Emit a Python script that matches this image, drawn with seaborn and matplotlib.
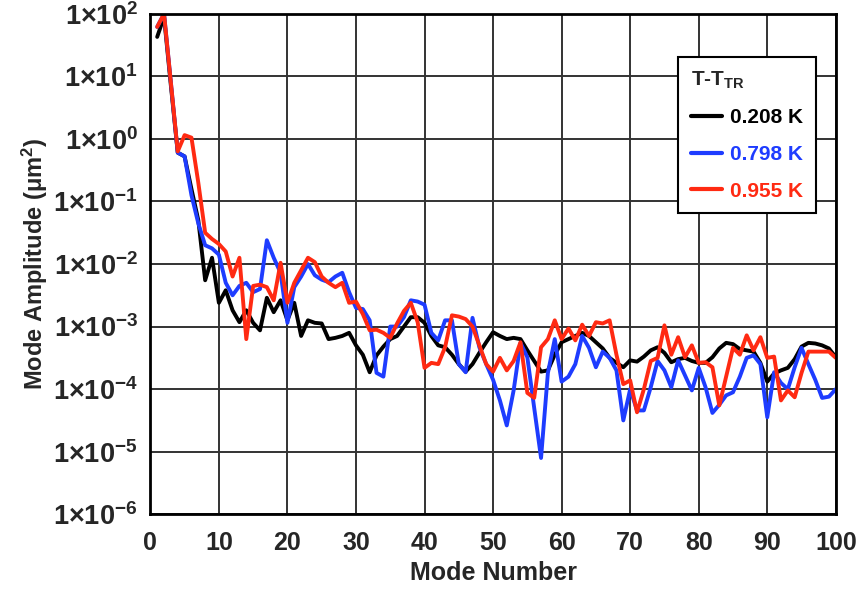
import numpy as np
import pandas as pd
import matplotlib
matplotlib.use("Agg")
import matplotlib.pyplot as plt
import matplotlib.ticker as mticker
import seaborn as sns

# mode numbers and log10 of mode amplitude (um^2)
modes = list(range(1, 101))

black_log = [1.63, 1.95, 0.85, -0.22, -0.28, -0.80, -1.30, -2.26, -1.90, -2.62,
             -2.42, -2.74, -2.93, -2.74, -2.94, -3.06, -2.54, -2.77, -2.58, -2.90,
             -2.62, -3.15, -2.90, -2.94, -2.95, -3.20, -3.18, -3.15, -3.10, -3.30,
             -3.45, -3.73, -3.46, -3.32, -3.20, -3.15, -3.00, -2.85, -2.85, -2.94,
             -3.15, -3.30, -3.33, -3.45, -3.60, -3.72, -3.60, -3.42, -3.25, -3.09,
             -3.15, -3.20, -3.18, -3.20, -3.38, -3.55, -3.72, -3.70, -3.45, -3.25,
             -3.20, -3.15, -3.10, -3.15, -3.25, -3.35, -3.50, -3.58, -3.65, -3.54,
             -3.56, -3.48, -3.38, -3.33, -3.42, -3.57, -3.52, -3.50, -3.55, -3.58,
             -3.58, -3.49, -3.35, -3.26, -3.28, -3.36, -3.38, -3.40, -3.58, -3.88,
             -3.75, -3.70, -3.66, -3.52, -3.32, -3.26, -3.27, -3.30, -3.35, -3.49]

blue_log = [1.79, 2.00, 0.90, -0.22, -0.28, -0.90, -1.35, -1.70, -1.75, -1.85,
            -2.30, -2.50, -2.35, -2.30, -2.45, -2.40, -1.62, -1.90, -2.14, -2.94,
            -2.37, -2.20, -2.00, -2.18, -2.25, -2.29, -2.20, -2.14, -2.45, -2.70,
            -2.72, -2.90, -3.74, -3.80, -3.00, -3.00, -2.85, -2.58, -2.60, -2.65,
            -3.10, -3.22, -2.90, -2.90, -3.60, -3.73, -2.86, -3.33, -3.60, -3.85,
            -4.18, -4.58, -4.02, -3.26, -3.49, -4.30, -5.10, -3.74, -3.20, -3.88,
            -3.80, -3.60, -3.15, -3.34, -3.65, -3.40, -3.50, -3.70, -4.50, -4.00,
            -4.34, -4.34, -3.97, -3.55, -3.70, -3.97, -3.54, -3.78, -4.02, -3.66,
            -3.97, -4.38, -4.25, -4.10, -4.05, -3.80, -3.50, -3.46, -3.60, -4.45,
            -3.73, -3.90, -4.00, -3.65, -3.34, -3.60, -3.85, -4.14, -4.12, -4.00]

red_log = [1.79, 2.00, 0.90, -0.20, 0.06, 0.02, -0.70, -1.50, -1.60, -1.68,
           -1.80, -2.20, -1.90, -3.20, -2.35, -2.33, -2.37, -2.58, -1.98, -2.62,
           -2.30, -2.10, -1.90, -1.97, -2.20, -2.30, -2.37, -2.30, -2.62, -2.60,
           -2.80, -3.06, -3.05, -3.10, -3.18, -2.95, -2.75, -2.62, -2.93, -3.66,
           -3.58, -3.60, -3.33, -2.82, -2.84, -2.88, -3.00, -3.30, -3.60, -3.72,
           -3.50, -3.70, -3.55, -3.25, -4.06, -4.14, -3.33, -3.20, -2.90, -3.20,
           -3.03, -3.22, -2.97, -3.15, -2.93, -2.95, -2.90, -3.45, -3.92, -3.86,
           -4.37, -4.00, -3.55, -3.50, -2.98, -3.45, -3.17, -3.49, -3.30, -3.58,
           -3.57, -3.65, -4.26, -3.80, -3.34, -3.45, -3.14, -3.38, -3.17, -3.50,
           -3.48, -4.18, -4.02, -4.13, -3.74, -3.40, -3.40, -3.40, -3.40, -3.50]

labels = ["0.208 K", "0.798 K", "0.955 K"]
colors = ["#000000", "#1e3cff", "#ff2a12"]

df = pd.concat([
    pd.DataFrame({"mode": modes, "amp": np.power(10.0, vals), "T": lab})
    for vals, lab in zip([black_log, blue_log, red_log], labels)
])

sns.set_style("white")
plt.rcParams["font.family"] = ["Liberation Sans", "DejaVu Sans"]
plt.rcParams["font.weight"] = "bold"
plt.rcParams["mathtext.fontset"] = "custom"
plt.rcParams["mathtext.rm"] = "Liberation Sans:bold"
plt.rcParams["mathtext.it"] = "Liberation Sans:bold"
plt.rcParams["mathtext.bf"] = "Liberation Sans:bold"
plt.rcParams["mathtext.default"] = "rm"

fig = plt.figure(figsize=(8.59, 5.98), dpi=100)
ax = fig.add_axes([0.175, 0.140, 0.798, 0.837])

sns.lineplot(data=df, x="mode", y="amp", hue="T", palette=colors,
             linewidth=2.8, ax=ax, legend=False)

ax.set_yscale("log")
ax.set_xlim(0, 100)
ax.set_ylim(1e-6, 1e2)

ax.set_xticks(range(0, 101, 10))
ax.xaxis.set_minor_locator(mticker.MultipleLocator(2))
ax.set_yticks([10.0 ** k for k in range(-6, 3)])
ax.yaxis.set_minor_locator(mticker.LogLocator(base=10, subs=np.arange(2, 10), numticks=20))
ax.yaxis.set_major_formatter(mticker.FuncFormatter(
    lambda v, p: r"$1{\times}10^{%d}$" % int(round(np.log10(v)))))
ax.yaxis.set_minor_formatter(mticker.NullFormatter())

ax.grid(True, which="major", color="#333333", linewidth=1.4)
ax.tick_params(axis="both", which="major", direction="out", length=6, width=1.5)
ax.tick_params(axis="both", which="minor", direction="out", length=3, width=1)
ax.tick_params(axis="y", labelsize=19.5, pad=3)
ax.tick_params(axis="x", labelsize=18, pad=6)

for s in ax.spines.values():
    s.set_color("black")
    s.set_linewidth(2)

ax.set_xlabel("Mode Number", fontsize=18, fontweight="bold", labelpad=4)
ax.set_ylabel("Mode Amplitude (μm$^{2}$)", fontsize=17, fontweight="bold", labelpad=2)

handles = [plt.Line2D([], [], color=c, linewidth=3) for c in colors]
leg = ax.legend(handles, labels, title=r"T-T$_{\mathrm{TR}}$", loc="upper left",
                bbox_to_anchor=(0.755, 0.935), frameon=True, fancybox=False,
                framealpha=1, edgecolor="black", fontsize=15, title_fontsize=15,
                handlelength=1.5, handletextpad=0.4, borderpad=0.6, labelspacing=0.85)
leg.get_frame().set_linewidth(1.5)
leg._legend_box.align = "left"
for txt, c in zip(leg.get_texts(), colors):
    txt.set_color(c)
    txt.set_fontweight("bold")
leg.get_title().set_fontweight("bold")

fig.savefig("out.png", dpi=100)
